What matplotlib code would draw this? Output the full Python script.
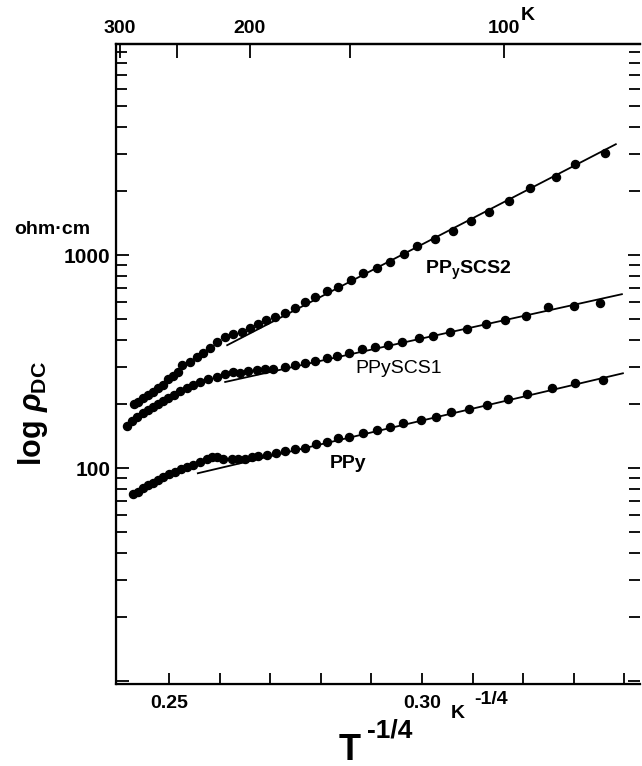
import numpy as np
import matplotlib.pyplot as plt
from matplotlib.ticker import LogLocator, NullFormatter, FixedLocator, FixedFormatter

plt.rcParams['font.family'] = ['Liberation Sans', 'DejaVu Sans']
plt.rcParams['mathtext.fontset'] = 'custom'
plt.rcParams['mathtext.rm'] = 'Liberation Sans:bold'
plt.rcParams['mathtext.it'] = 'Liberation Sans:italic:bold'
plt.rcParams['mathtext.bf'] = 'Liberation Sans:bold'

# data: x = T^-1/4 (K^-1/4), y = rho_DC (ohm cm)
scs2_x = [0.2431, 0.2439, 0.2449, 0.2458, 0.2468, 0.2478, 0.2488, 0.2498, 0.2508, 0.2518,
          0.2526, 0.2542, 0.2555, 0.2567, 0.2581, 0.2595, 0.2611, 0.2626, 0.2644, 0.2660,
          0.2676, 0.2692, 0.2709, 0.2729, 0.2749, 0.2769, 0.2789, 0.2812, 0.2834, 0.2860,
          0.2883, 0.2911, 0.2937, 0.2964, 0.2990, 0.3026, 0.3061, 0.3097, 0.3132, 0.3172,
          0.3213, 0.3265, 0.3302, 0.3362]
scs2_y = [200, 204, 213, 220, 227, 237, 245, 262, 270, 282,
          305, 315, 332, 347, 366, 390, 412, 426, 435, 454,
          475, 495, 512, 534, 564, 602, 635, 678, 708, 763,
          823, 869, 927, 1011, 1102, 1189, 1296, 1444, 1592, 1793,
          2063, 2324, 2675, 3012]

scs1_x = [0.2417, 0.2427, 0.2437, 0.2449, 0.2458, 0.2468, 0.2478, 0.2488, 0.2498, 0.2510,
          0.2522, 0.2536, 0.2547, 0.2561, 0.2577, 0.2595, 0.2611, 0.2626, 0.2640, 0.2656,
          0.2674, 0.2690, 0.2706, 0.2729, 0.2749, 0.2769, 0.2789, 0.2812, 0.2832, 0.2856,
          0.2881, 0.2907, 0.2933, 0.2960, 0.2994, 0.3022, 0.3055, 0.3089, 0.3126, 0.3164,
          0.3206, 0.3249, 0.3300, 0.3352]
scs1_y = [157, 166, 174, 181, 187, 193, 200, 206, 213, 220,
          230, 237, 245, 253, 262, 267, 276, 282, 279, 285,
          289, 292, 292, 298, 305, 311, 318, 328, 336, 347,
          362, 370, 378, 390, 408, 417, 435, 449, 475, 495,
          517, 570, 576, 595]

ppy_x = [0.2429, 0.2439, 0.2449, 0.2458, 0.2468, 0.2478, 0.2488, 0.2500, 0.2512, 0.2524,
         0.2536, 0.2547, 0.2561, 0.2575, 0.2585, 0.2595, 0.2607, 0.2625, 0.2636, 0.2650,
         0.2664, 0.2676, 0.2694, 0.2711, 0.2729, 0.2749, 0.2769, 0.2791, 0.2812, 0.2834,
         0.2856, 0.2883, 0.2911, 0.2937, 0.2962, 0.2998, 0.3028, 0.3057, 0.3093, 0.3128,
         0.3170, 0.3208, 0.3257, 0.3302, 0.3358]
ppy_y = [75.5, 77.2, 80.5, 83.2, 85.0, 87.8, 90.7, 93.7, 95.8, 98.9,
         101, 104, 107, 110, 113, 113, 111, 111, 111, 111,
         113, 114, 115, 118, 121, 123, 125, 130, 133, 138,
         140, 146, 151, 156, 163, 168, 174, 183, 189, 198,
         211, 223, 237, 251, 259]

# straight fit lines (end points)
scs2_fit_x = [0.2615, 0.3383]
scs2_fit_y = [378, 3319]
scs1_fit_x = [0.2611, 0.3395]
scs1_fit_y = [254, 656]
ppy_fit_x = [0.2557, 0.3397]
ppy_fit_y = [94.7, 279]

# temperature scale on top
top_T = [300, 250, 200, 150, 100]
top_labels = ['300', '', '200', '', '100']

fig = plt.figure(figsize=(6.42, 7.66), dpi=100)
ax = fig.add_axes([0.1807, 0.107, 0.8162, 0.8355])

for x, y, fx, fy in [(scs2_x, scs2_y, scs2_fit_x, scs2_fit_y),
                     (scs1_x, scs1_y, scs1_fit_x, scs1_fit_y),
                     (ppy_x, ppy_y, ppy_fit_x, ppy_fit_y)]:
    ax.plot(fx, fy, color='black', lw=1.3, zorder=2)
    ax.plot(x, y, 'o', color='black', ms=5.8, mec='black', zorder=3)

ax.set_yscale('log')
ax.set_xlim(0.23953, 0.34308)
ax.set_ylim(9.7, 9800)

ax.xaxis.set_major_locator(FixedLocator(np.arange(0.25, 0.3451, 0.01)))
ax.xaxis.set_major_formatter(FixedFormatter(['0.25', '', '', '', '', '0.30', '', '', '', '']))
ax.yaxis.set_major_locator(FixedLocator([10, 100, 1000, 10000]))
ax.yaxis.set_major_formatter(FixedFormatter(['', '100', '1000', '']))
ax.yaxis.set_minor_locator(LogLocator(base=10, subs=np.arange(2, 10)))
ax.yaxis.set_minor_formatter(NullFormatter())

ax.tick_params(axis='x', which='both', direction='in', length=8, width=1.3,
               labelsize=14, pad=8)
ax.tick_params(axis='y', which='major', direction='in', length=9, width=1.3,
               labelsize=15, pad=4, right=True)
ax.tick_params(axis='y', which='minor', direction='in', length=8, width=1.3, right=True)
for lab in ax.get_xticklabels() + ax.get_yticklabels():
    lab.set_fontweight('bold')

for s in ['left', 'bottom', 'top']:
    ax.spines[s].set_linewidth(1.6)
ax.spines['right'].set_visible(False)

top = ax.twiny()
top.set_xlim(ax.get_xlim())
top.set_xticks([t ** -0.25 for t in top_T])
top.set_xticklabels(top_labels, fontsize=14, fontweight='bold')
top.tick_params(axis='x', direction='in', length=10, width=1.3, pad=5)
top.spines['right'].set_visible(False)
top.spines['top'].set_linewidth(1.6)

# curve labels
ax.text(0.3006, 957, 'PP$_{\\mathrm{y}}$SCS2', fontsize=14, fontweight='bold',
        ha='left', va='top')
ax.text(0.2868, 321, 'PPySCS1', fontsize=14, ha='left', va='top')
ax.text(0.2818, 115, 'PPy', fontsize=14, fontweight='bold', ha='left', va='top')

# unit and axis labels
fig.text(0.081, 1 - 229 / 766, 'ohm·cm', fontsize=14, fontweight='bold', ha='center', va='center')
fig.text(0.052, 1 - 414 / 766, 'log $\\rho_{\\mathrm{DC}}$', fontsize=22, fontweight='bold',
         rotation=90, ha='center', va='center')
fig.text(458 / 642, 1 - 714 / 766, 'K', fontsize=14, fontweight='bold', ha='center', va='center')
fig.text(491 / 642, 1 - 700 / 766, '-1/4', fontsize=14, fontweight='bold', ha='center', va='center')
fig.text(350 / 642, 1 - 750 / 766, 'T', fontsize=26, fontweight='bold', ha='center', va='center')
fig.text(390 / 642, 1 - 730 / 766, '-1/4', fontsize=19, fontweight='bold', ha='center', va='center')
fig.text(528 / 642, 1 - 16 / 766, 'K', fontsize=14, fontweight='bold', ha='center', va='center')

fig.savefig('out.png', dpi=100)
